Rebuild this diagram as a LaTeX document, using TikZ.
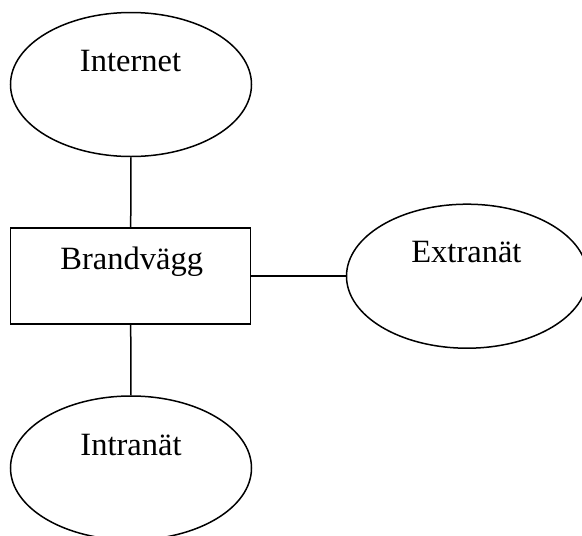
\documentclass[tikz,border=0pt]{standalone}
\usepackage{fontspec}
\setmainfont{Liberation Serif}
\usetikzlibrary{shapes.geometric}
\begin{document}
\begin{tikzpicture}[x=1pt,y=-1pt,
  line width=1.5pt,
  net/.style={draw,ellipse,minimum width=241pt,minimum height=144pt,inner sep=0pt},
  wall/.style={draw,rectangle,minimum width=240pt,minimum height=96pt,inner sep=0pt},
  lbl/.style={anchor=base,inner sep=0pt,font=\fontsize{32.5}{36}\selectfont},
  link/.style={draw,line width=1.5pt}]
\clip (0,0) rectangle (582,536);
\fill[white] (0,0) rectangle (582,536);

% network areas and firewall
\node[net]  (inet)  at (131,84.5)  {};
\node[wall] (fw)    at (130.7,276.2) {};
\node[net]  (extra) at (467,276.2) {};
\node[net]  (intra) at (131,468)   {};

% names
\node[lbl] (tinet)  at (130.5,71.7)  {Internet};
\node[lbl] (tfw)    at (131.7,269.3) {Brandvägg};
\node[lbl] (textra) at (466.4,262.7) {Extranät};
\node[lbl] (tintra) at (131,455)     {Intranät};

% connections
\path[link] (inet.south) -- (fw.north);
\path[link] (fw.south) -- (intra.north);
\path[link] (fw.east) -- (extra.west);
\end{tikzpicture}
\end{document}
